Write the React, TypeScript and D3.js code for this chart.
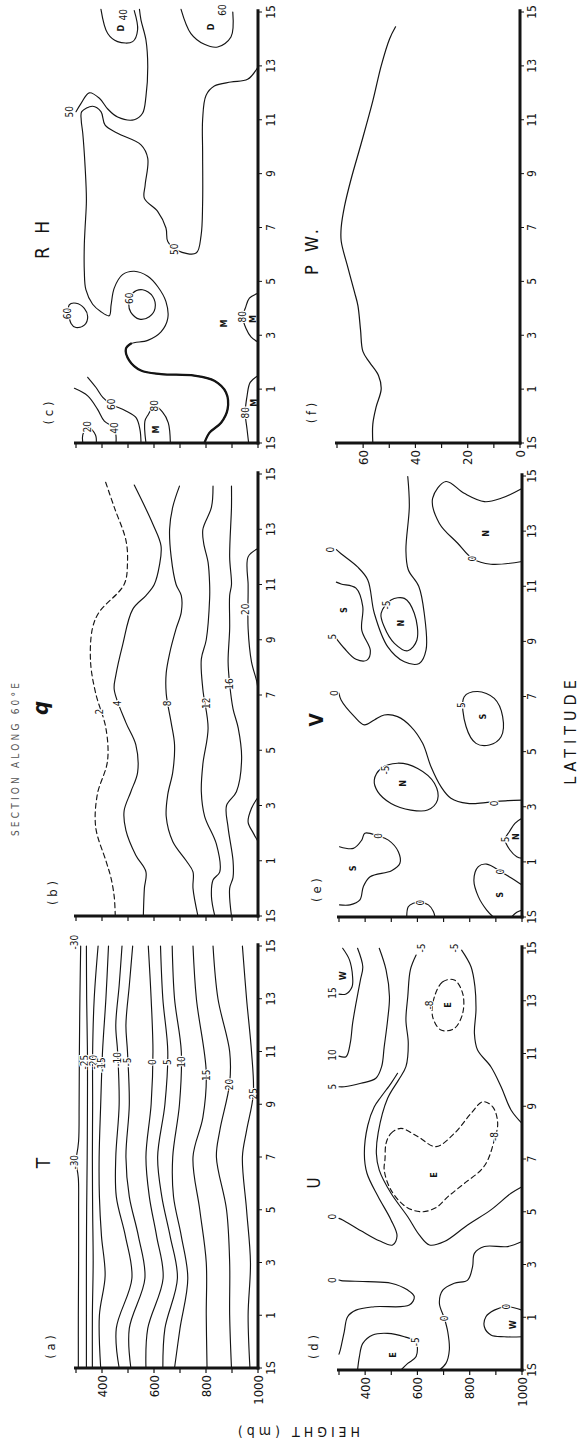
import React from "react";
import * as d3 from "d3";

type Pt = [number, number]; // [latitude, value]
type Lab = [number, number, string];
type Line = { pts: Pt[]; dash?: boolean; closed?: boolean; w?: number };

// axes
const latTicks = [-1, 1, 3, 5, 7, 9, 11, 13, 15];
const latTickText = ["1S", "1", "3", "5", "7", "9", "11", "13", "15"];
const mbTicks = [300, 400, 500, 600, 700, 800, 900, 1000];
const mbLabels = [400, 600, 800, 1000];
const pwTicks = [0, 10, 20, 30, 40, 50, 60, 70];
const pwLabels = [0, 20, 40, 60];

// (a) T  [lat, mb]
const tM30lo: Pt[] = [[-1, 309], [1, 309], [3, 310], [5, 310], [6.2, 309], [6.6, 303], [6.8, 298]];
const tM30hi: Pt[] = [[15, 318], [13, 315], [11, 313], [9, 312], [7.6, 310], [7.1, 303], [6.9, 298]];
const tM25: Pt[] = [[-1, 340], [1, 340], [3, 340], [5, 341], [7, 343], [9, 344], [11, 344], [13, 341], [15, 340]];
const tM20: Pt[] = [[-1, 363], [1, 363], [3, 366], [5, 364], [7, 363], [9, 364], [11, 364], [13, 370], [15, 385]];
const tM15: Pt[] = [[-1, 395], [1, 390], [2.5, 412], [4, 398], [5.5, 390], [7, 389], [9, 395], [11, 402], [13, 415], [15, 425]];
const tM10: Pt[] = [[-1, 466], [0.5, 455], [2.4, 515], [4, 490], [5.5, 455], [7, 453], [9, 466], [11, 460], [12, 453], [13.5, 466], [15, 477]];
const tM5: Pt[] = [[-1, 511], [0.5, 505], [2.4, 565], [4, 540], [5.5, 505], [7, 492], [9, 505], [11, 498], [12, 492], [13.5, 505], [15, 518]];
const t0: Pt[] = [[-1, 569], [0.5, 576], [2.4, 635], [4, 610], [5.5, 582], [7, 569], [9, 589], [11, 596], [13, 589], [15, 578]];
const t5: Pt[] = [[-1, 634], [0.5, 642], [2.4, 690], [4, 662], [5.5, 630], [7, 614], [9, 642], [11, 653], [13, 634], [15, 625]];
const t10: Pt[] = [[-1, 679], [0.5, 700], [2.4, 730], [4, 705], [5.5, 675], [7, 672], [9, 698], [11, 705], [13, 679], [15, 670]];
const t15: Pt[] = [[-1, 804], [1, 801], [3, 801], [5, 776], [7, 750], [8.5, 788], [10.2, 801], [13, 763], [15, 750]];
const t20: Pt[] = [[-1, 898], [1, 891], [3, 891], [5, 879], [7, 840], [8, 853], [9.8, 891], [11, 891], [13, 846], [15, 827]];
const t25: Pt[] = [[-1, 969], [1, 962], [3, 971], [5, 956], [7, 940], [8, 956], [9.4, 982], [11, 975], [13, 956], [15, 940]];
const tLabels: Lab[] = [
  [15.15, 296, "-30"], [6.8, 294, "-30"], [10.6, 333, "-25"], [10.6, 367, "-20"], [10.5, 399, "-15"],
  [10.7, 460, "-10"], [10.6, 498, "-5"], [10.6, 595, "0"], [10.6, 653, "5"], [10.6, 705, "10"],
  [10.1, 801, "15"], [9.75, 891, "20"], [9.4, 982, "25"],
];

// (b) q  [lat, mb]
const q2: Pt[] = [[14.7, 414], [13.8, 447], [12.6, 492], [11.8, 498], [11.0, 485], [10.0, 389], [9.4, 363], [8.2, 356], [7.05, 376], [5.8, 415], [4.6, 421], [3.4, 382], [2.2, 376], [1.0, 415], [0.4, 434], [-0.3, 447], [-1, 451]];
const q4: Pt[] = [[14.6, 524], [13.2, 595], [12.4, 627], [11.7, 621], [11.0, 601], [10.6, 569], [10.1, 518], [8.8, 479], [7.7, 453], [7.2, 447], [6.0, 492], [5.2, 530], [4.2, 537], [3.5, 511], [2.8, 485], [2.1, 492], [1.2, 530], [0.6, 569], [0, 563], [-1, 559]];
const q8: Pt[] = [[14.56, 698], [13.8, 672], [13.0, 660], [12.0, 666], [11.0, 685], [10.6, 705], [10.0, 705], [9.4, 685], [8.5, 660], [7.8, 647], [7.05, 647], [6.0, 666], [5.2, 679], [4.2, 672], [3.4, 653], [2.6, 647], [1.7, 672], [1.0, 724], [0.6, 750], [0, 750], [-1, 769]];
const q12: Pt[] = [[14.56, 827], [13.8, 821], [13.0, 788], [12.5, 791], [11.8, 808], [11.0, 814], [10.5, 814], [9.0, 801], [8.3, 782], [7.2, 788], [5.8, 808], [4.5, 788], [3.5, 782], [2.6, 795], [1.6, 840], [0.6, 853], [0.3, 827], [-0.3, 821], [-1, 834]];
const q16: Pt[] = [[14.56, 898], [13.8, 898], [12.0, 891], [11.0, 898], [10.6, 891], [9.4, 891], [8.2, 885], [7.4, 891], [6.5, 904], [5.8, 924], [4.7, 937], [3.5, 917], [3.0, 879], [2.2, 885], [1.0, 904], [0.4, 904], [0, 891], [-1, 898]];
const q20a: Pt[] = [[12.3, 1000], [12.0, 962], [11.0, 962], [10.7, 962], [9.4, 962], [8.2, 975], [7.5, 995], [7.2, 1000]];
const q20b: Pt[] = [[3.3, 1000], [2.9, 975], [2.4, 962], [2.0, 982], [1.7, 1000]];
const qLabels: Lab[] = [[6.4, 389, "2"], [6.7, 460, "4"], [6.7, 653, "8"], [6.7, 801, "12"], [7.4, 889, "16"], [10.1, 952, "20"]];

// (c) RH  [lat, mb]
const rh20: Pt[] = [[-1, 326], [-0.7, 326], [-0.4, 345], [-0.7, 375], [-1, 378]];
const rh40: Pt[] = [[1.03, 294], [0.75, 345], [0.25, 383], [-0.19, 409], [-0.44, 447], [-0.75, 454], [-1, 454]];
const rh60a: Pt[] = [[1.44, 345], [1.06, 377], [0.69, 403], [0.44, 435], [0.19, 492], [-0.06, 531], [-0.5, 546], [-1, 550]];
const rh80a: Pt[] = [[-1, 569], [-0.19, 565], [0.06, 578], [0.38, 601], [0.15, 633], [-0.25, 655], [-1, 663]];
const rh50b: Pt[] = [
  [-1, 794], [-0.625, 813], [-0.25, 858], [0.25, 883], [0.875, 877], [1.31, 832], [1.5, 755], [1.56, 627], [1.69, 550], [2.06, 505], [2.5, 492],
  [2.69, 512], [2.81, 576], [3.125, 627], [3.625, 653], [4.25, 646], [4.81, 614], [5.19, 576], [5.375, 524], [5.25, 479], [4.75, 447], [4.125, 435],
  [3.725, 428], [3.875, 396], [4.15, 364], [4.69, 338], [5.375, 332], [6.375, 332], [7.0, 335], [8.02, 340], [9.26, 335], [10.5, 326], [11.0, 320],
  [11.3, 322], [11.5, 364], [11.3, 396], [10.8, 412], [10.5, 460], [10.07, 550], [9.57, 576], [8.58, 566], [8.08, 563], [7.6, 614], [6.98, 646],
  [6.48, 653], [6.15, 690], [6.05, 762], [6.7, 781], [7.9, 787], [9.8, 787], [11.0, 787], [11.9, 800], [12.25, 832], [12.4, 896], [12.5, 960], [12.96, 1000],
];
const rh50a: Pt[] = [[11.3, 300], [11.6, 319], [12.0, 351], [11.8, 390], [11.4, 422], [11.1, 460], [11.0, 524], [11.24, 556], [11.86, 569], [12.97, 576], [13.96, 569], [14.7, 550], [15.1, 544]];
const rhD40: Pt[] = [[15.1, 396], [14.2, 422], [13.9, 460], [13.9, 518], [14.34, 537], [15.05, 524]];
const rhD60: Pt[] = [[15.1, 704], [14.2, 742], [13.8, 794], [13.7, 845], [14.07, 896], [15.0, 903]];
const rh60c1: Pt[] = [[4.125, 274], [4.19, 300], [4.0, 332], [3.69, 345], [3.375, 332], [3.29, 300], [3.44, 281]];
const rh60c2: Pt[] = [[4.56, 518], [4.69, 556], [4.44, 595], [4.0, 604], [3.69, 582], [3.6, 544], [3.85, 511], [4.15, 503]];
const rh80b: Pt[] = [[4.56, 1000], [4.375, 967], [4.0, 951], [3.69, 941], [3.25, 954], [2.94, 973], [2.75, 1000]];
const rh80c: Pt[] = [[1.5, 1000], [1.25, 970], [0.75, 958], [0.125, 951], [-0.5, 958], [-1, 964]];
const rhLabels: Lab[] = [
  [-0.4, 345, "20"], [-0.44, 447, "40"], [0.44, 435, "60"], [0.38, 601, "80"], [6.19, 678, "50"], [11.3, 274, "50"],
  [14.9, 482, "40"], [15.07, 864, "60"], [3.81, 268, "60"], [4.375, 505, "60"], [3.69, 941, "80"], [0.125, 951, "80"],
];
const rhMarks: Lab[] = [[-0.5, 608, "M"], [14.4, 473, "D"], [14.45, 819, "D"], [3.6, 980, "M"], [3.44, 870, "M"], [0.5, 986, "M"]];

// (d) U  [lat, mb]
const u15: Pt[] = [[14.99, 314], [14.55, 340], [13.91, 352], [13.53, 350], [13.26, 327], [13.25, 300]];
const u10: Pt[] = [[14.99, 371], [14.29, 391], [13.79, 382], [12.9, 365], [12.14, 352], [11.39, 343], [10.88, 327], [10.9, 300]];
const u5: Pt[] = [[14.99, 454], [14.17, 480], [13.15, 493], [12.27, 486], [11.26, 473], [10.5, 463], [10.06, 441], [9.87, 384], [9.74, 320], [9.74, 300]];
const uM5a: Pt[] = [[14.73, 595], [14.17, 573], [13.15, 563], [12.27, 556], [11.38, 565], [10.5, 556], [10.0, 528], [9.3, 486], [8.0, 450], [7.2, 443], [6.58, 454], [5.7, 499], [4.81, 563], [4.12, 607], [3.74, 646], [3.87, 703], [4.5, 792], [5.07, 881], [5.7, 958], [5.95, 1000]];
const u0a: Pt[] = [[10.25, 524], [9.87, 499], [9.36, 461], [8.98, 435], [8.27, 410], [7.21, 397], [6.46, 407], [5.57, 450], [4.69, 499], [4.08, 522], [3.74, 505], [3.9, 454], [4.28, 384], [4.69, 314], [4.75, 300]];
const uM5b: Pt[] = [[14.92, 769], [14.29, 805], [13.53, 820], [12.65, 824], [11.76, 818], [11.13, 830], [10.5, 881], [9.74, 920], [8.86, 958], [8.35, 1000]];
const uE8a: Pt[] = [[13.15, 665], [13.72, 697], [13.79, 741], [13.28, 773], [12.52, 773], [11.95, 741], [11.89, 690], [12.4, 658]];
const uE8b: Pt[] = [[7.59, 480], [7.97, 499], [8.16, 537], [7.85, 601], [7.47, 671], [7.97, 741], [8.73, 805], [9.17, 850], [8.98, 888], [8.35, 907], [7.72, 894], [6.96, 869], [6.58, 843], [6.08, 780], [5.6, 720], [5.15, 670], [5.0, 614], [5.19, 556], [5.82, 499], [6.58, 473], [7.0, 476]];
const u0b: Pt[] = [[2.41, 300], [2.39, 308], [2.35, 410], [2.29, 499], [2.03, 563], [1.78, 588], [1.46, 569], [1.4, 435], [1.27, 365], [1.02, 333], [0.45, 320], [-0.24, 305], [-0.4, 300]];
const u0c: Pt[] = [[3.87, 1000], [3.68, 945], [3.68, 856], [3.42, 818], [2.92, 811], [2.41, 792], [2.29, 741], [2.03, 697], [1.53, 684], [0.96, 703], [0.45, 716], [-0.24, 722], [-0.75, 709], [-1, 684]];
const uE5: Pt[] = [[-1, 371], [-0.49, 378], [0.01, 391], [0.33, 429], [0.39, 486], [0.26, 550], [0.07, 594], [-0.49, 595], [-0.75, 563], [-1, 537]];
const uW0: Pt[] = [[1.27, 1000], [1.4, 939], [1.27, 894], [1.02, 862], [0.64, 856], [0.33, 881], [0.26, 932], [0.26, 1000]];
const uLabels: Lab[] = [
  [13.29, 276, "15"], [10.94, 276, "10"], [9.74, 276, "5"], [15.0, 614, "-5"], [15.0, 740, "-5"], [12.84, 645, "-8"],
  [7.85, 894, "-8"], [4.81, 276, "0"], [2.41, 276, "0"], [0.96, 703, "0"], [0.07, 594, "-5"], [1.4, 939, "0"],
];
const uMarks: Lab[] = [[13.95, 314, "W"], [12.84, 716, "E"], [6.39, 665, "E"], [-0.43, 505, "E"], [0.71, 964, "W"]];

// (e) V  [lat, mb]
const v0top: Pt[] = [[14.98, 563], [13.9, 569], [12.3, 556], [11.6, 565], [11.0, 605], [10.02, 626], [8.69, 633], [8.2, 607], [8.26, 550], [8.81, 486], [10.02, 435], [11.23, 410], [11.7, 371], [12.18, 308], [12.33, 290]];
const vS5a: Pt[] = [[11.15, 290], [11.08, 308], [10.93, 365], [10.26, 391], [9.41, 387], [8.66, 420], [8.32, 407], [8.35, 365], [8.75, 320], [9.1, 290]];
const vN5a: Pt[] = [[10.02, 461], [10.5, 499], [10.56, 550], [10.02, 588], [9.05, 598], [8.66, 563], [8.93, 512], [9.53, 473]];
const vN0: Pt[] = [[14.55, 1000], [14.19, 920], [14.07, 856], [14.37, 779], [14.8, 709], [14.19, 658], [13.28, 684], [12.56, 754], [12.0, 811], [11.8, 881], [11.9, 1000]];
const v0mid: Pt[] = [[7.12, 300], [6.87, 308], [6.27, 359], [5.97, 397], [6.15, 435], [6.33, 473], [6.27, 524], [5.91, 575], [5.3, 620], [4.45, 652], [3.73, 690], [3.31, 728], [3.12, 792], [3.15, 860], [3.22, 945], [3.24, 1000]];
const vS5b: Pt[] = [[6.99, 779], [7.18, 830], [6.93, 894], [6.27, 926], [5.54, 920], [5.24, 875], [5.3, 824], [5.91, 786]];
const vN5b: Pt[] = [[3.97, 435], [4.39, 461], [4.58, 524], [4.39, 601], [3.85, 665], [3.25, 677], [2.88, 639], [2.88, 575], [3.12, 499], [3.55, 448]];
const vS0a: Pt[] = [[1.55, 302], [1.49, 355], [1.79, 387], [2.04, 399], [1.94, 450], [1.79, 489], [1.37, 527], [0.95, 533], [0.68, 501], [0.46, 419], [0.1, 393], [-0.38, 380], [-0.56, 342], [-0.56, 302]];
const v0arc: Pt[] = [[-1, 559], [-0.63, 565], [-0.5, 584], [-0.48, 612], [-0.56, 642], [-0.8, 661], [-1, 667]];
const vS0b: Pt[] = [[0.16, 1000], [0.44, 954], [0.65, 918], [0.92, 865], [0.83, 833], [0.34, 816], [-0.26, 833], [-0.75, 865], [-1, 890]];
const vN5c: Pt[] = [[2.58, 1000], [2.4, 973], [2.1, 952], [1.82, 935], [1.43, 954], [1.19, 980], [1.13, 1000]];
const vCorner: Pt[] = [[-1, 960], [-0.83, 980], [-0.75, 1000]];
const vLabels: Lab[] = [
  [12.33, 269, "0"], [9.17, 276, "5"], [10.32, 480, "-5"], [12.0, 811, "0"], [7.12, 282, "0"], [3.12, 894, "0"],
  [6.69, 767, "5"], [4.33, 477, "-5"], [1.94, 450, "0"], [-0.48, 612, "0"], [0.65, 918, "0"], [1.82, 935, "5"],
];
const vMarks: Lab[] = [[10.14, 320, "S"], [9.66, 537, "N"], [12.92, 862, "N"], [6.27, 850, "S"], [3.85, 543, "N"], [0.77, 355, "S"], [-0.2, 916, "S"], [1.92, 976, "N"]];

// (f) precipitable water
const pwLat = [-1, -0.3, 0.35, 1.0, 1.5, 2.0, 2.4, 3.2, 4.1, 4.6, 5.5, 6.5, 7.0, 7.8, 8.8, 10.1, 11.7, 13.0, 14.0, 14.45];
const pwVal = [56.3, 56.3, 55.0, 53.1, 54.1, 57.6, 60.1, 61.0, 62.0, 63.3, 65.8, 68.4, 68.4, 67.1, 64.6, 60.8, 56.3, 53.1, 49.9, 47.6];

const FONT = "'Liberation Sans Narrow','DejaVu Sans Condensed','Liberation Sans',Arial,sans-serif";
const INK = "#141414";

function Txt({ x, y, t, size = 10, weight = 400, rot = -90, halo = 0, spacing = 0, anchor = "middle", italic = false, fill = INK }: any) {
  return (
    <text
      transform={`translate(${x},${y}) rotate(${rot})`}
      textAnchor={anchor}
      dominantBaseline="central"
      fontFamily={FONT}
      fontSize={size}
      fontWeight={weight}
      fontStyle={italic ? "italic" : "normal"}
      letterSpacing={spacing}
      fill={fill}
      stroke={halo ? "#fff" : "none"}
      strokeWidth={halo}
      paintOrder="stroke"
    >
      {t}
    </text>
  );
}

type PanelProps = {
  x0: number; x1: number; dom: [number, number]; y0: number; y1: number;
  lines: Line[]; labels?: Lab[]; marks?: Lab[]; ticks: number[]; tickText?: number[]; latX: number;
};

function Panel({ x0, x1, dom, y0, y1, lines, labels = [], marks = [], ticks, tickText, latX }: PanelProps) {
  const xs = d3.scaleLinear().domain(dom).range([x0, x1]);
  const ys = d3.scaleLinear().domain([-1, 15]).range([y0, y1]);
  const path = (l: Line) =>
    d3.line<Pt>()
      .x((d) => xs(d[1]))
      .y((d) => ys(d[0]))
      .curve(l.closed ? d3.curveCatmullRomClosed.alpha(0.5) : d3.curveCatmullRom.alpha(0.5))(l.pts) || "";
  const ax = xs(dom[1]);
  const base = ys(-1);
  return (
    <g>
      {lines.map((l, i) => (
        <path key={i} d={path(l)} fill="none" stroke={INK} strokeWidth={l.w ?? 1.15}
          strokeDasharray={l.dash ? "5 3.5" : undefined} strokeLinejoin="round" strokeLinecap="round" />
      ))}
      {labels.map(([la, v, t], i) => (
        <Txt key={"l" + i} x={xs(v)} y={ys(la)} t={t} size={10} halo={2.2} />
      ))}
      {marks.map(([la, v, t], i) => (
        <Txt key={"m" + i} x={xs(v)} y={ys(la)} t={t} size={9} weight={700} />
      ))}
      <line x1={xs(dom[0]) - 2} x2={ax + 1.5} y1={base} y2={base} stroke={INK} strokeWidth={3} />
      <line x1={ax} x2={ax} y1={base + 1.5} y2={ys(15.1)} stroke={INK} strokeWidth={3} />
      {ticks.map((v) => (
        <line key={"t" + v} x1={xs(v)} x2={xs(v)} y1={base} y2={base + 5} stroke={INK} strokeWidth={1.2} />
      ))}
      {latTicks.map((la) => (
        <line key={"lt" + la} x1={ax} x2={ax + 4} y1={ys(la)} y2={ys(la)} stroke={INK} strokeWidth={1} />
      ))}
      {latTicks.map((la, i) => (
        <Txt key={"ll" + la} x={latX} y={ys(la)} t={latTickText[i]} size={12} />
      ))}
      {tickText && tickText.map((v) => (
        <Txt key={"tl" + v} x={xs(v)} y={base + 7} t={String(v)} size={13} anchor="end" />
      ))}
    </g>
  );
}

const L = (pts: Pt[], o: Partial<Line> = {}): Line => ({ pts, ...o });

export default function App() {
  const pwPts: Pt[] = pwLat.map((la, i) => [la, pwVal[i]]);
  return (
    <svg width={583} height={1450} viewBox="0 0 583 1450" style={{ position: "absolute", left: 0, top: 0, background: "#fff" }}>
      <rect width={583} height={1450} fill="#fff" />

      {/* (c) RH */}
      <Panel x0={76} x1={258} dom={[300, 1000]} y0={443} y1={12} ticks={mbTicks} latX={271}
        lines={[L(rh20), L(rh40), L(rh60a), L(rh80a), L(rh50b), L(rh50b.slice(0, 12), { w: 2.3 }), L(rh50a), L(rhD40), L(rhD60),
          L(rh60c1, { closed: true }), L(rh60c2, { closed: true }), L(rh80b), L(rh80c)]}
        labels={rhLabels} marks={rhMarks} />

      {/* (b) q */}
      <Panel x0={76} x1={258} dom={[300, 1000]} y0={916} y1={474} ticks={mbTicks} latX={271}
        lines={[L(q2, { dash: true }), L(q4), L(q8), L(q12), L(q16), L(q20a), L(q20b)]}
        labels={qLabels} />

      {/* (a) T */}
      <Panel x0={76} x1={258} dom={[300, 1000]} y0={1368} y1={946} ticks={mbTicks} tickText={mbLabels} latX={271}
        lines={[tM30lo, tM30hi, tM25, tM20, tM15, tM10, tM5, t0, t5, t10, t15, t20, t25].map((p) => L(p))}
        labels={tLabels} />

      {/* (f) P.W. */}
      <Panel x0={337} x1={520} dom={[70, 0]} y0={443} y1={12} ticks={pwTicks} tickText={pwLabels} latX={532}
        lines={[L(pwPts, { w: 1.2 })]} />

      {/* (e) V */}
      <Panel x0={339} x1={522} dom={[300, 1000]} y0={917} y1={476} ticks={mbTicks} latX={532}
        lines={[L(v0top), L(vS5a), L(vN5a, { closed: true }), L(vN0), L(v0mid), L(vS5b, { closed: true }), L(vN5b, { closed: true }),
          L(vS0a), L(v0arc), L(vS0b), L(vN5c), L(vCorner)]}
        labels={vLabels} marks={vMarks} />

      {/* (d) U */}
      <Panel x0={339} x1={522} dom={[300, 1000]} y0={1370} y1={948} ticks={mbTicks} tickText={mbLabels} latX={532}
        lines={[L(u15), L(u10), L(u5), L(uM5a), L(u0a), L(uM5b), L(uE8a, { dash: true, closed: true }), L(uE8b, { dash: true, closed: true }),
          L(u0b), L(u0c), L(uE5), L(uW0)]}
        labels={uLabels} marks={uMarks} />

      {/* panel captions */}
      <Txt x={48} y={413} t="( c )" size={13} />
      <Txt x={42} y={238} t="R H" size={19} spacing={4} />
      <Txt x={52} y={893} t="( b )" size={13} />
      <Txt x={40} y={708} t="q" size={22} weight={700} italic />
      <Txt x={15} y={758} t="SECTION ALONG 60°E" size={10} spacing={3.2} fill="#555" />
      <Txt x={50} y={1347} t="( a )" size={13} />
      <Txt x={43} y={1163} t="T" size={19} />
      <Txt x={311} y={413} t="( f )" size={13} />
      <Txt x={311} y={250} t="P W." size={18} spacing={4} />
      <Txt x={316} y={890} t="( e )" size={13} />
      <Txt x={316} y={720} t="V" size={19} weight={700} />
      <Txt x={313} y={1347} t="( d )" size={13} />
      <Txt x={314} y={1183} t="U" size={17} />
      <Txt x={570} y={730} t="LATITUDE" size={16} spacing={5} />
      <Txt x={297} y={1432} t="HEIGHT (mb)" size={14} spacing={4} rot={180} />
    </svg>
  );
}
